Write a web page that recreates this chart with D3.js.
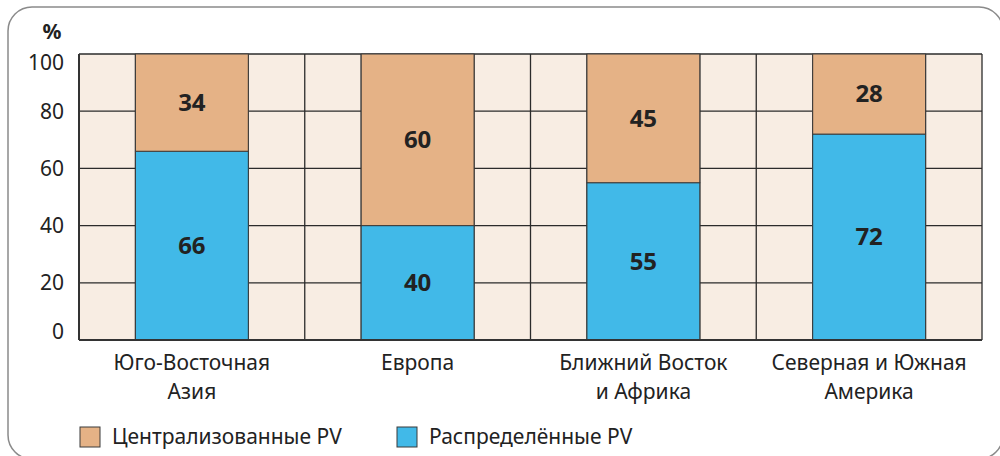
<!DOCTYPE html>
<html>
<head>
<meta charset="utf-8">
<script src="https://cdn.jsdelivr.net/npm/d3@7"></script>
<style>
  body { margin: 0; background: #fff; }
  text { font-family: "Noto Sans", "Open Sans", sans-serif; }
</style>
</head>
<body>
<svg id="chart" width="1000" height="456"></svg>
<script>
var regions = [["Юго-Восточная", "Азия"], ["Европа"], ["Ближний Восток", "и Африка"], ["Северная и Южная", "Америка"]];
var distributed = [66, 40, 55, 72];
var centralized = [34, 60, 45, 28];
var yTicks = [0, 20, 40, 60, 80, 100];
var seriesNames = ["Централизованные PV", "Распределённые PV"];

var colors = { central: "#e5b286", distrib: "#41b9e8", grid: "#2b2b2b", bg: "#f8ede3" };

var svg = d3.select("#chart");

// frame
svg.append("rect")
    .attr("x", 8).attr("y", 7)
    .attr("width", 995).attr("height", 452)
    .attr("rx", 24)
    .attr("fill", "none")
    .attr("stroke", "#8a8a8a")
    .attr("stroke-width", 1.5);

var plotL = 79, plotR = 982, plotT = 54, plotB = 340;

var x = d3.scaleBand()
    .domain(d3.range(regions.length))
    .range([plotL, plotR])
    .paddingInner(0.5)
    .paddingOuter(0.25);

var y = d3.scaleLinear().domain([0, 100]).range([plotB, plotT]);

svg.append("rect")
    .attr("x", plotL).attr("y", plotT)
    .attr("width", plotR - plotL).attr("height", plotB - plotT)
    .attr("fill", colors.bg);

// grid: columns are quarter-steps of the band scale
var col = x.step() / 4;
var gridX = d3.range(17).map(function(i) { return plotL + i * col; });

svg.append("g").selectAll("line")
    .data(yTicks)
    .enter().append("line")
    .attr("x1", plotL).attr("x2", plotR)
    .attr("y1", function(d) { return y(d); })
    .attr("y2", function(d) { return y(d); })
    .attr("stroke", colors.grid)
    .attr("stroke-width", 1.3);

svg.append("g").selectAll("line")
    .data(gridX)
    .enter().append("line")
    .attr("x1", function(d) { return d; })
    .attr("x2", function(d) { return d; })
    .attr("y1", plotT).attr("y2", plotB)
    .attr("stroke", colors.grid)
    .attr("stroke-width", 1.3);

// bars
var bars = svg.append("g").selectAll("g")
    .data(d3.range(regions.length))
    .enter().append("g");

bars.append("rect")
    .attr("x", function(i) { return x(i); })
    .attr("width", x.bandwidth())
    .attr("y", function(i) { return y(distributed[i]); })
    .attr("height", function(i) { return y(0) - y(distributed[i]); })
    .attr("fill", colors.distrib)
    .attr("stroke", "#3a3a3a").attr("stroke-width", 1);

bars.append("rect")
    .attr("x", function(i) { return x(i); })
    .attr("width", x.bandwidth())
    .attr("y", function(i) { return y(distributed[i] + centralized[i]); })
    .attr("height", function(i) { return y(distributed[i]) - y(distributed[i] + centralized[i]); })
    .attr("fill", colors.central)
    .attr("stroke", "#3a3a3a").attr("stroke-width", 1);

bars.append("text")
    .attr("x", function(i) { return x(i) + x.bandwidth() / 2; })
    .attr("y", function(i) { return y(distributed[i] / 2); })
    .attr("dy", "0.35em")
    .attr("text-anchor", "middle")
    .attr("font-size", 24).attr("font-weight", "bold").attr("fill", "#222")
    .text(function(i) { return distributed[i]; });

bars.append("text")
    .attr("x", function(i) { return x(i) + x.bandwidth() / 2; })
    .attr("y", function(i) { return y(distributed[i] + centralized[i] / 2); })
    .attr("dy", "0.35em")
    .attr("text-anchor", "middle")
    .attr("font-size", 24).attr("font-weight", "bold").attr("fill", "#222")
    .text(function(i) { return centralized[i]; });

// axis frame lines
svg.append("line").attr("x1", plotL).attr("x2", plotL).attr("y1", plotT).attr("y2", plotB)
    .attr("stroke", "#333").attr("stroke-width", 2);
svg.append("line").attr("x1", plotL).attr("x2", plotR).attr("y1", plotB).attr("y2", plotB)
    .attr("stroke", "#333").attr("stroke-width", 2);

// y tick labels (end labels nudged inward, as in the original)
svg.append("g").selectAll("text")
    .data(yTicks)
    .enter().append("text")
    .attr("x", 64)
    .attr("y", function(d) { return y(d) + (d === 100 ? 9 : d === 0 ? -8 : 0); })
    .attr("dy", "0.35em")
    .attr("text-anchor", "end")
    .attr("font-size", 21).attr("fill", "#222")
    .text(function(d) { return d; });

svg.append("text")
    .attr("x", 52).attr("y", 39)
    .attr("text-anchor", "middle")
    .attr("font-size", 21).attr("font-weight", "bold").attr("fill", "#222")
    .text("%");

// x labels
var xl = svg.append("g").selectAll("text")
    .data(d3.range(regions.length))
    .enter().append("text")
    .attr("text-anchor", "middle")
    .attr("font-size", 21).attr("fill", "#222")
    .attr("x", function(i) { return x(i) + x.bandwidth() / 2; })
    .attr("y", 370);
xl.selectAll("tspan")
    .data(function(i) { return regions[i].map(function(t) { return { t: t, x: x(i) + x.bandwidth() / 2 }; }); })
    .enter().append("tspan")
    .attr("x", function(d) { return d.x; })
    .attr("dy", function(d, j) { return j === 0 ? 0 : 29; })
    .text(function(d) { return d.t; });

// legend
var legendX = [80, 397];
var legendColors = [colors.central, colors.distrib];
var lg = svg.append("g").selectAll("g")
    .data(seriesNames)
    .enter().append("g")
    .attr("transform", function(d, i) { return "translate(" + legendX[i] + ",427)"; });
lg.append("rect")
    .attr("width", 20).attr("height", 20)
    .attr("fill", function(d, i) { return legendColors[i]; })
    .attr("stroke", "#3a3a3a").attr("stroke-width", 1);
lg.append("text")
    .attr("x", 32).attr("y", 10).attr("dy", "0.35em")
    .attr("font-size", 21).attr("fill", "#222")
    .text(function(d) { return d; });
</script>
</body>
</html>
